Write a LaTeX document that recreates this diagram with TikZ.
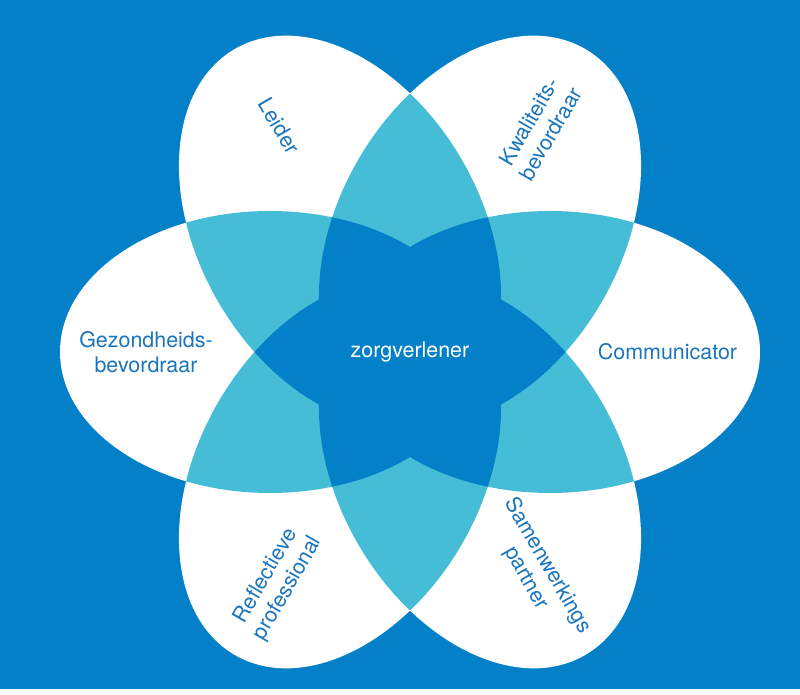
\documentclass[tikz,border=0pt]{standalone}
\usepackage{fontspec}
\setmainfont{TeX Gyre Heros}
\definecolor{rolebg}{RGB}{3,128,200}
\definecolor{roleovl}{RGB}{70,189,214}
\definecolor{roletext}{RGB}{27,117,188}
\tikzset{
  rlabel/.style={align=center,font=\fontsize{12.2}{14.2}\selectfont,
                 text=roletext,inner sep=0pt},
  clabel/.style={rlabel,text=white},
}
% one petal of the flower, pointing in direction #1
\newcommand{\rolepetal}[1]{(#1:2.8) circle[x radius=4.2,y radius=2.82,rotate=#1]}

\begin{document}
\begin{tikzpicture}
% --- background ---
\fill[rolebg] (-8.2,-6.74) rectangle (7.8,7.04);
% --- petals ---
\foreach \a in {0,60,...,300}
  \fill[white] \rolepetal{\a};
% neighbouring petals overlap
\foreach \a in {0,60,...,300}{
  \begin{scope}
    \clip \rolepetal{\a};
    \fill[roleovl] \rolepetal{\a+60};
  \end{scope}
}
% three petals overlap: the centre star
\foreach \a in {0,60,...,300}{
  \begin{scope}
    \clip \rolepetal{\a-60};
    \clip \rolepetal{\a};
    \fill[rolebg] \rolepetal{\a+60};
  \end{scope}
}
% --- labels ---
\node[clabel] (zorg) at (0,0) {zorgverlener};
\node[rlabel] (comm) at (0:5.15) {Communicator};
\node[rlabel] (gezond) at (180:5.28) {Gezondheids-\\bevordraar};
\node[rlabel,rotate=-60] (leider) at (120:5.22) {Leider};
\node[rlabel,rotate=60] (kwal) at (60:5.18) {Kwaliteits-\\bevordraar};
\node[rlabel,rotate=60] (refl) at (240:5.32) {Reflectieve\\professional};
\node[rlabel,rotate=-60] (samen) at (300:5.08) {Samenwerkings\\partner};
\end{tikzpicture}
\end{document}
